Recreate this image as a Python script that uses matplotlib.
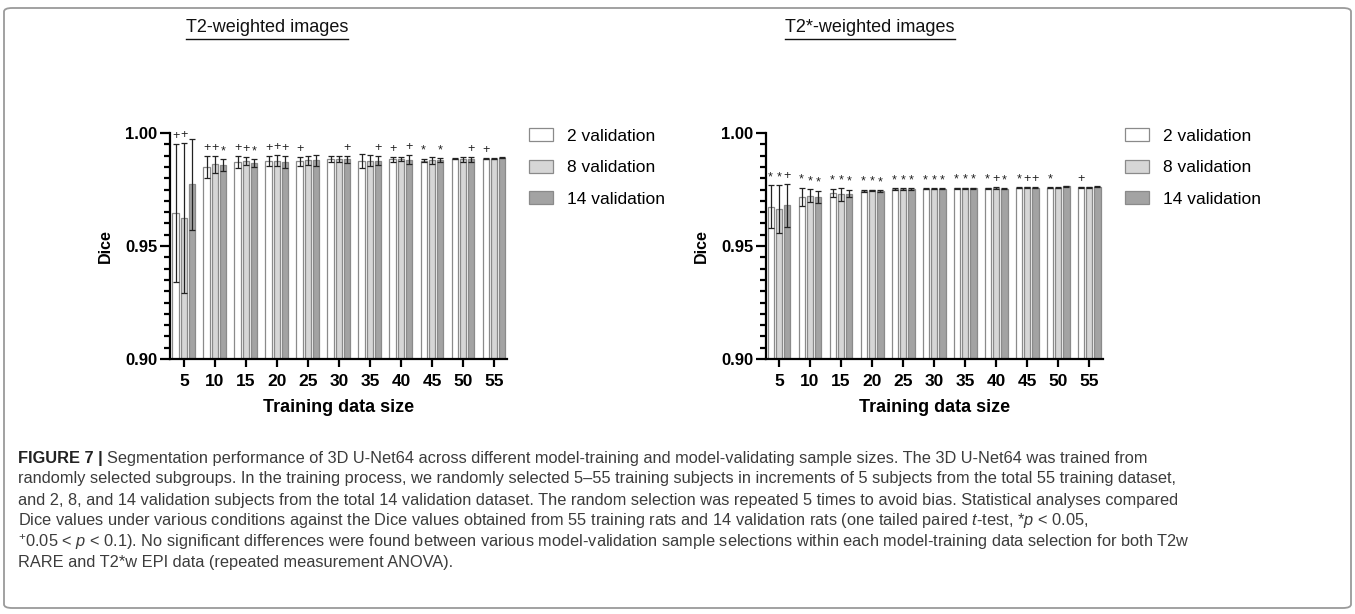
import matplotlib
matplotlib.use("Agg")
import numpy as np
from matplotlib import pyplot as plt
from matplotlib.patches import FancyBboxPatch, Patch
from matplotlib.lines import Line2D
from matplotlib.ticker import MultipleLocator

plt.rcParams['font.family'] = ['Liberation Sans', 'DejaVu Sans']
plt.rcParams['mathtext.fontset'] = 'custom'
plt.rcParams['mathtext.rm'] = 'Liberation Sans'
plt.rcParams['mathtext.it'] = 'Liberation Sans:italic'

training_sizes = [5, 10, 15, 20, 25, 30, 35, 40, 45, 50, 55]
series_labels = ['2 validation', '8 validation', '14 validation']

# T2-weighted, mean Dice per validation size
t2_mean = [
    [0.9647, 0.9851, 0.9870, 0.9876, 0.9876, 0.9884, 0.9876, 0.9884, 0.9878, 0.9886, 0.9886],
    [0.9624, 0.9861, 0.9876, 0.9878, 0.9879, 0.9885, 0.9878, 0.9885, 0.9879, 0.9884, 0.9886],
    [0.9774, 0.9857, 0.9866, 0.9873, 0.9879, 0.9883, 0.9878, 0.9882, 0.9879, 0.9883, 0.9890],
]
t2_sd = [
    [0.0305, 0.0048, 0.0027, 0.0024, 0.0020, 0.0013, 0.0030, 0.0011, 0.0008, 0.0003, 0.0002],
    [0.0332, 0.0038, 0.0018, 0.0025, 0.0020, 0.0013, 0.0026, 0.0011, 0.0017, 0.0011, 0.0002],
    [0.0201, 0.0027, 0.0018, 0.0026, 0.0023, 0.0015, 0.0021, 0.0019, 0.0009, 0.0010, 0.0002],
]
t2_marks = [
    ['+', '+', '+', '+', '+', '', '', '+', '*', '', '+'],
    ['+', '+', '+', '+', '', '', '', '', '', '', ''],
    ['', '*', '*', '+', '', '+', '+', '+', '*', '+', ''],
]

# T2*-weighted
t2s_mean = [
    [0.9674, 0.9718, 0.9736, 0.9745, 0.9751, 0.9754, 0.9755, 0.9755, 0.9758, 0.9758, 0.9760],
    [0.9664, 0.9723, 0.9729, 0.9746, 0.9751, 0.9754, 0.9755, 0.9757, 0.9760, 0.9758, 0.9760],
    [0.9680, 0.9718, 0.9732, 0.9744, 0.9751, 0.9754, 0.9755, 0.9754, 0.9758, 0.9764, 0.9763],
]
t2s_sd = [
    [0.0094, 0.0040, 0.0018, 0.0004, 0.0004, 0.0003, 0.0003, 0.0003, 0.0003, 0.0002, 0.0002],
    [0.0105, 0.0028, 0.0028, 0.0004, 0.0004, 0.0003, 0.0003, 0.0003, 0.0003, 0.0002, 0.0002],
    [0.0096, 0.0027, 0.0017, 0.0004, 0.0004, 0.0003, 0.0003, 0.0003, 0.0003, 0.0002, 0.0002],
]
t2s_marks = [
    ['*', '*', '*', '*', '*', '*', '*', '*', '*', '*', '+'],
    ['*', '*', '*', '*', '*', '*', '*', '+', '+', '', ''],
    ['+', '*', '*', '*', '*', '*', '*', '*', '+', '', ''],
]

fills = ['#ffffff', '#d6d6d6', '#a3a3a3']
edge = '#8a8a8a'
offsets = [-0.27, 0.0, 0.27]
bar_w = 0.2


def draw_panel(ax, means, sds, marks, xlim):
    x = np.arange(len(training_sizes))
    for k in range(3):
        m = np.array(means[k])
        s = np.array(sds[k])
        ax.bar(x + offsets[k], m - 0.90, bottom=0.90, width=bar_w,
               color=fills[k], edgecolor=edge, linewidth=0.9, zorder=2)
        ax.errorbar(x + offsets[k], m, yerr=s, fmt='none', ecolor='#222222',
                    elinewidth=0.9, capsize=2.2, capthick=0.9, zorder=3)
        for i, sym in enumerate(marks[k]):
            if sym:
                ax.text(x[i] + offsets[k], m[i] + s[i] + 0.0035, sym,
                        ha='center', va='center', fontsize=9,
                        color='#222222', clip_on=False)
    ax.set_xlim(*xlim)
    ax.set_ylim(0.90, 1.00)
    ax.set_xticks(x)
    ax.set_xticklabels([str(t) for t in training_sizes], fontsize=12.5, fontweight='bold')
    ax.set_yticks([0.90, 0.95, 1.00])
    ax.set_yticklabels(['0.90', '0.95', '1.00'], fontsize=12, fontweight='bold')
    ax.yaxis.set_minor_locator(MultipleLocator(0.005))
    ax.tick_params(axis='y', which='major', length=7, width=1.6, pad=2)
    ax.tick_params(axis='y', which='minor', length=4, width=1.6)
    ax.tick_params(axis='x', which='major', length=6, width=1.6, pad=5)
    for side in ['top', 'right']:
        ax.spines[side].set_visible(False)
    for side in ['left', 'bottom']:
        ax.spines[side].set_linewidth(1.6)
    ax.set_xlabel('Training data size', fontsize=13, fontweight='bold', labelpad=7)
    ax.set_ylabel('Dice', fontsize=11.5, fontweight='bold', labelpad=9)
    handles = [Patch(facecolor=fills[k], edgecolor=edge, linewidth=0.9, label=series_labels[k])
               for k in range(3)]
    ax.legend(handles=handles, loc='upper left', bbox_to_anchor=(1.065, 1.02),
              frameon=False, fontsize=12.5, handlelength=1.38, handleheight=0.75,
              labelspacing=0.92, handletextpad=0.8, borderaxespad=0, borderpad=0)


fig = plt.figure(figsize=(13.55, 6.14), dpi=100)

frame = FancyBboxPatch((4 / 1355, 6 / 614), 1347 / 1355, 600 / 614,
                       boxstyle='round,pad=0,rounding_size=0.006',
                       transform=fig.transFigure, facecolor='none',
                       edgecolor='#9a9a9a', linewidth=1.3)
fig.patches.append(frame)

ax1 = fig.add_axes([170 / 1355, 1 - 359 / 614, 337 / 1355, 226 / 614])
ax2 = fig.add_axes([766 / 1355, 1 - 359 / 614, 337 / 1355, 226 / 614])
draw_panel(ax1, t2_mean, t2_sd, t2_marks, (-0.45, 10.42))
draw_panel(ax2, t2s_mean, t2s_sd, t2s_marks, (-0.42, 10.45))

renderer = fig.canvas.get_renderer()
inv = fig.transFigure.inverted()

# underlined panel titles
for cx, title in [(267, 'T2-weighted images'), (870, 'T2*-weighted images')]:
    t = fig.text(cx / 1355, 1 - 28 / 614, title, ha='center', va='center',
                 fontsize=13, color='#111111')
    bb = t.get_window_extent(renderer)
    (x0, y0), (x1, _) = inv.transform([(bb.x0, bb.y0), (bb.x1, bb.y1)])
    fig.add_artist(Line2D([x0, x1], [y0 - 2 / 614, y0 - 2 / 614], transform=fig.transFigure,
                          color='#111111', linewidth=1.0))

caption_lines = [
    'Segmentation performance of 3D U-Net64 across different model-training and model-validating sample sizes. The 3D U-Net64 was trained from',
    'randomly selected subgroups. In the training process, we randomly selected 5\u201355 training subjects in increments of 5 subjects from the total 55 training dataset,',
    'and 2, 8, and 14 validation subjects from the total 14 validation dataset. The random selection was repeated 5 times to avoid bias. Statistical analyses compared',
    'Dice values under various conditions against the Dice values obtained from 55 training rats and 14 validation rats (one tailed paired $t$-test, *$p$ < 0.05,',
    '$^{+}$0.05 < $p$ < 0.1). No significant differences were found between various model-validation sample selections within each model-training data selection for both T2w',
    'RARE and T2*w EPI data (repeated measurement ANOVA).',
]
cap_color = '#3c3c3c'
cap_size = 11.8
x_left = 18 / 1355
line_y = [458, 479, 500, 521, 542, 563]

head = fig.text(x_left, 1 - line_y[0] / 614, 'FIGURE 7 |', ha='left', va='center',
                fontsize=cap_size, fontweight='bold', color='#222222')
bb = head.get_window_extent(renderer)
head_end = inv.transform([(bb.x1 + 4, bb.y0)])[0][0]

for i, line in enumerate(caption_lines):
    xs = head_end if i == 0 else x_left
    fig.text(xs, 1 - line_y[i] / 614, line, ha='left', va='center',
             fontsize=cap_size, color=cap_color)

fig.savefig('out.png', dpi=100)
